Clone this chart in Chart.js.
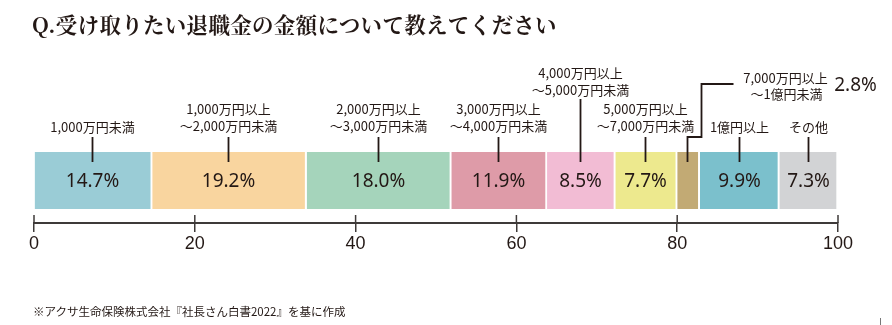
<!DOCTYPE html>
<html>
<head>
<meta charset="utf-8">
<script src="https://cdn.jsdelivr.net/npm/chart.js@4/dist/chart.umd.min.js"></script>
<style>
  html, body { margin: 0; padding: 0; background: #fff; }
  #wrap { position: relative; width: 892px; height: 325px; overflow: hidden; }
  #title { position: absolute; left: 32px; top: 8px; font-family: "Noto Serif CJK JP", "Noto Sans CJK JP", serif; font-weight: 700; font-size: 21.5px; color: #231815; white-space: nowrap; letter-spacing: 0.3px; }
  #note { position: absolute; left: 33px; top: 303px; font-family: "Noto Sans CJK JP", sans-serif; font-size: 11.5px; color: #231815; white-space: nowrap; }
  #mark { position: absolute; left: 880px; top: 318px; width: 1px; height: 7px; background: #777; }
  canvas { position: absolute; left: 0; top: 0; }
</style>
</head>
<body>
<div id="wrap">
  <canvas id="c" width="892" height="325"></canvas>
  <div id="title">Q.受け取りたい退職金の金額について教えてください</div>
  <div id="note">※アクサ生命保険株式会社『社長さん白書2022』を基に作成</div>
  <div id="mark"></div>
</div>
<script>
const categories = [
  ['1,000万円未満'],
  ['1,000万円以上', '～2,000万円未満'],
  ['2,000万円以上', '～3,000万円未満'],
  ['3,000万円以上', '～4,000万円未満'],
  ['4,000万円以上', '～5,000万円未満'],
  ['5,000万円以上', '～7,000万円未満'],
  ['7,000万円以上', '～1億円未満'],
  ['1億円以上'],
  ['その他']
];
const values = [14.7, 19.2, 18.0, 11.9, 8.5, 7.7, 2.8, 9.9, 7.3];
const colors = ['#9accd6', '#f9d59f', '#a5d4bb', '#de9ba8', '#f2bcd4', '#ede98e', '#c2aa74', '#7bc0cc', '#d2d3d5'];
const xTicks = [0, 20, 40, 60, 80, 100];

const INK = '#231815';

const labelPlugin = {
  id: 'segLabels',
  afterDatasetsDraw(chart) {
    const ctx = chart.ctx;
    const xs = chart.scales.x;
    let cum = 0;
    ctx.save();
    ctx.textAlign = 'center';
    ctx.textBaseline = 'middle';
    ctx.strokeStyle = INK;
    ctx.fillStyle = INK;
    ctx.lineWidth = 1.8;
    values.forEach((v, i) => {
      const el = chart.getDatasetMeta(i).data[0];
      const top = el.y - el.height / 2;
      const mid = el.y;
      const cx = Math.round(xs.getPixelForValue(cum + v / 2)) - 1 + 0.5;
      cum += v;
      const lines = categories[i];
      ctx.font = '13px "Noto Sans CJK JP", sans-serif';
      if (i === 6) {
        // callout
        ctx.beginPath();
        ctx.moveTo(cx, top + 10);
        ctx.lineTo(cx, top - 15);
        ctx.lineTo(cx + 14, top - 15);
        ctx.lineTo(cx + 14, top - 68);
        ctx.lineTo(cx + 46, top - 68);
        ctx.stroke();
        ctx.fillText(lines[0], cx + 98, top - 74);
        ctx.fillText(lines[1], cx + 99, top - 58);
        ctx.font = '19px "Noto Sans", sans-serif';
        ctx.fillText(v.toFixed(1) + '%', cx + 168, top - 66);
        return;
      }
      let lineTop = top - 15;
      let ys;
      if (i === 4) {
        lineTop = top - 53;
        ys = [top - 79, top - 62];
      } else if (lines.length === 2) {
        ys = [top - 43, top - 26];
      } else {
        ys = [top - 25];
      }
      lines.forEach((t, k) => ctx.fillText(t, cx, ys[k]));
      ctx.beginPath();
      ctx.moveTo(cx, lineTop);
      ctx.lineTo(cx, top + 10);
      ctx.stroke();
      ctx.font = '19px "Noto Sans", sans-serif';
      ctx.fillText(v.toFixed(1) + '%', cx, mid + 1);
    });
    ctx.restore();
  },
  afterDraw(chart) {
    const ctx = chart.ctx;
    const xs = chart.scales.x;
    const b = chart.chartArea.bottom;
    ctx.save();
    ctx.strokeStyle = '#3e3a39';
    ctx.lineWidth = 1.5;
    xs.ticks.forEach(t => {
      const x = xs.getPixelForValue(t.value);
      ctx.beginPath();
      ctx.moveTo(x, b - 8);
      ctx.lineTo(x, b);
      ctx.stroke();
    });
    ctx.restore();
  }
};

new Chart(document.getElementById('c'), {
  type: 'bar',
  data: {
    labels: ['回答'],
    datasets: values.map((v, i) => ({
      label: categories[i].join(''),
      data: [v],
      backgroundColor: colors[i],
      borderColor: '#ffffff',
      borderWidth: { top: 0, right: 2, bottom: 0, left: 0 },
      borderSkipped: false,
      barThickness: 57
    }))
  },
  options: {
    indexAxis: 'y',
    responsive: false,
    animation: false,
    devicePixelRatio: 1,
    layout: { padding: { top: 138, left: 34, right: 54, bottom: 0 } },
    plugins: { legend: { display: false }, tooltip: { enabled: false }, title: { display: false } },
    scales: {
      x: {
        stacked: true,
        min: 0,
        max: 100,
        afterBuildTicks(s) { s.ticks = xTicks.map(v => ({ value: v })); },
        afterFit(s) { s.height = 102; },
        grid: { display: true, drawOnChartArea: false, drawTicks: true, tickLength: 9, color: '#3e3a39', lineWidth: 1.5 },
        border: { display: true, color: '#3e3a39', width: 2 },
        ticks: {
          padding: 1,
          color: INK,
          font: { family: '"Liberation Sans Narrow", "Liberation Sans", sans-serif', size: 18 },
          maxRotation: 0,
          autoSkip: false
        }
      },
      y: { stacked: true, display: false }
    }
  },
  plugins: [labelPlugin]
});
</script>
</body>
</html>
